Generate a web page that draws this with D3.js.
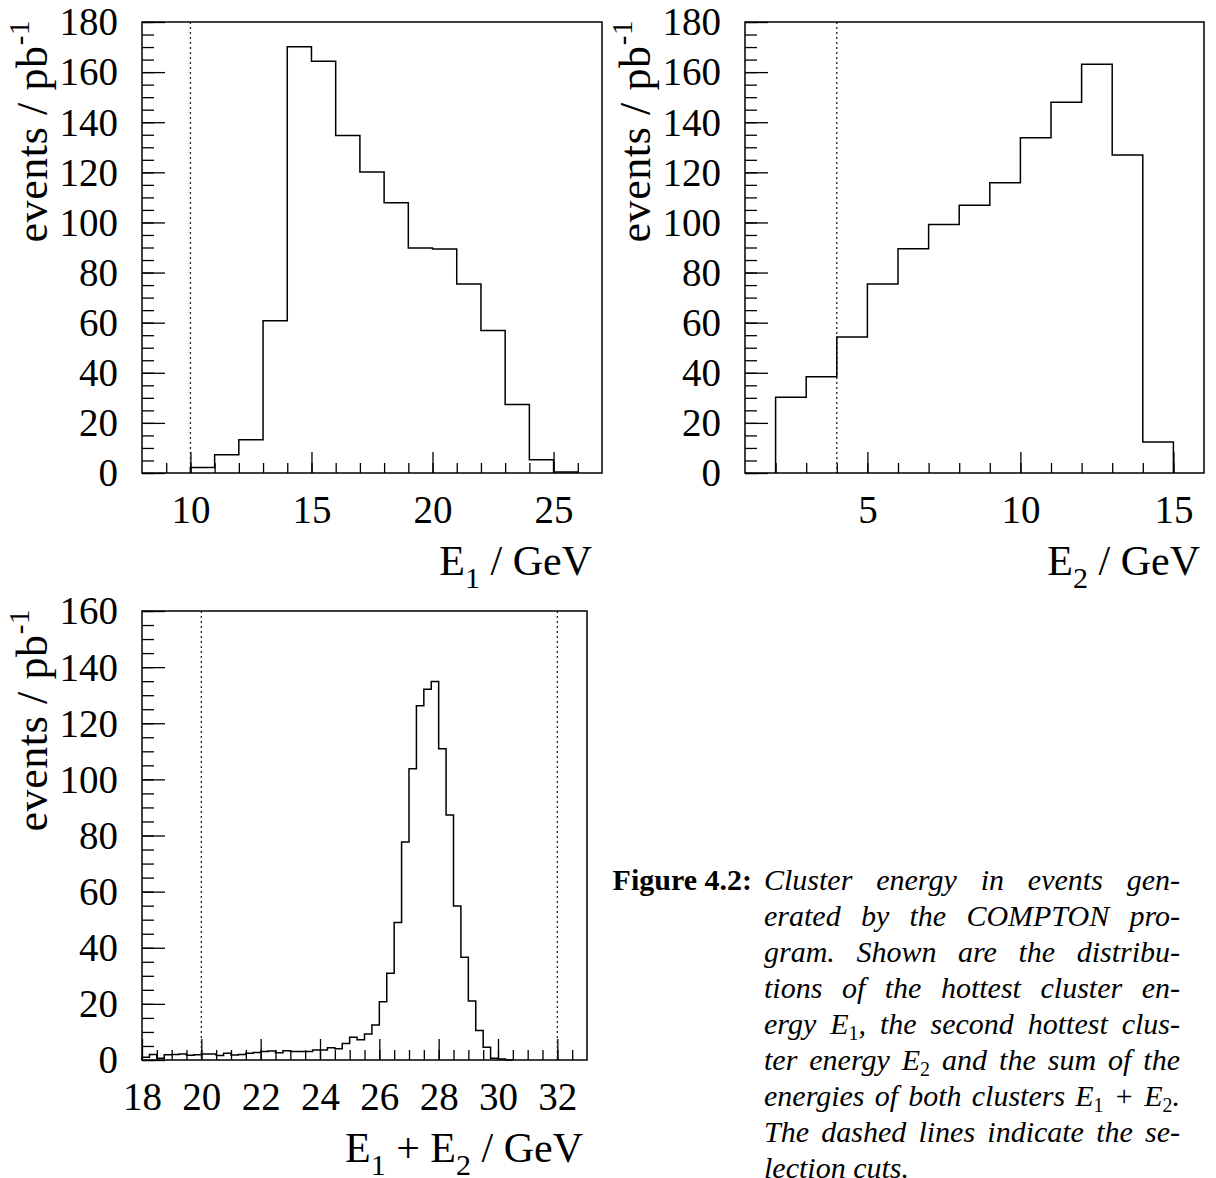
<!DOCTYPE html>
<html><head><meta charset="utf-8">
<script src="https://cdn.jsdelivr.net/npm/d3@7"></script>
<style>body{margin:0;background:#fff} svg{display:block}</style>
</head><body>
<svg id="chart" width="1216" height="1178"></svg>
<script>
// ---------------- data ----------------
// Panel 1: E1 (GeV), bin edges and events / pb^-1
const e1Edges  = [10,11,12,13,14,15,16,17,18,19,20,21,22,23,24,25,26];
const e1Counts = [2.2,7.3,13.3,60.8,170.1,164.3,134.7,120.1,107.9,89.8,89.4,75.4,56.9,27.3,5.3,0.4];
const e1Cuts = [10];
const e1MajorTicks = [10,15,20,25];
const e1MinorTicks = [9,10,11,12,13,14,15,16,17,18,19,20,21,22,23,24,25,26];

// Panel 2: E2 (GeV)
const e2Edges  = [2,3,4,5,6,7,8,9,10,11,12,13,14,15];
const e2Counts = [30.2,38.4,54.3,75.4,89.5,99.2,106.9,115.8,133.8,148.0,163.1,126.9,12.4];
const e2Cuts = [4];
const e2MajorTicks = [5,10,15];
const e2MinorTicks = [2,3,4,5,6,7,8,9,10,11,12,13,14,15];

// Panel 3: E1+E2 (GeV), 0.25 GeV bins starting at 18
const sumBinStart = 18, sumBinWidth = 0.25;
const sumCounts = [1.0,2.0,0.6,1.9,2.0,2.1,1.7,1.9,2.1,2.1,1.6,2.4,1.8,2.0,2.4,2.7,3.0,3.2,2.6,3.3,3.0,3.0,3.0,3.6,3.6,
                   4.4,4.0,5.9,8.1,7.2,9.3,12.5,20.8,30.9,49.0,77.7,103.8,126.2,132.1,134.9,110.9,87.3,54.9,36.6,21.0,10.5,4.5,0.6,0.4,0.0];
const sumCuts = [20,32];
const sumMajorTicks = [18,20,22,24,26,28,30,32];
const sumMinorTicks = [18.5,19,19.5,20,20.5,21,21.5,22,22.5,23,23.5,24,24.5,25,25.5,26,26.5,27,27.5,28,28.5,29,29.5,30,30.5,31,31.5,32,32.5];

const yMajor180 = [0,20,40,60,80,100,120,140,160,180];
const yMajor160 = [0,20,40,60,80,100,120,140,160];
const yMinor180 = d3.range(0,181,5);
const yMinor160 = d3.range(0,161,5);

const captionLabel = "Figure 4.2:";
const captionLines = [
  "Cluster energy in events gen-",
  "erated by the COMPTON pro-",
  "gram.  Shown are the distribu-",
  "tions of the hottest cluster en-",
  "ergy E_1, the second hottest clus-",
  "ter energy E_2 and the sum of the",
  "energies of both clusters E_1 + E_2.",
  "The dashed lines indicate the se-",
  "lection cuts."
];

// ---------------- drawing ----------------
const FONT = "'Liberation Serif','Times New Roman',serif";
const svg = d3.select('#chart');

function panel(cfg){
  const x = d3.scaleLinear().domain(cfg.xDomain).range([cfg.left, cfg.right]);
  const y = d3.scaleLinear().domain(cfg.yDomain).range([cfg.bottom, cfg.top]);
  const g = svg.append('g');

  // minor ticks
  g.append('g').attr('transform',`translate(${cfg.left},0)`)
    .call(d3.axisLeft(y).tickValues(cfg.yMinor).tickSizeInner(-12).tickSizeOuter(0).tickFormat(''))
    .call(a=>a.select('.domain').remove());
  g.append('g').attr('transform',`translate(0,${cfg.bottom})`)
    .call(d3.axisBottom(x).tickValues(cfg.xMinor).tickSizeInner(-10).tickSizeOuter(0).tickFormat(''))
    .call(a=>a.select('.domain').remove());

  // major ticks with labels
  const gy = g.append('g').attr('transform',`translate(${cfg.left},0)`)
    .call(d3.axisLeft(y).tickValues(cfg.yMajor).tickSizeInner(-23).tickSizeOuter(0).tickPadding(24));
  gy.select('.domain').remove();
  gy.attr('font-family', FONT).attr('font-size', 39);
  gy.selectAll('text').attr('dy','0.33em');

  const gx = g.append('g').attr('transform',`translate(0,${cfg.bottom})`)
    .call(d3.axisBottom(x).tickValues(cfg.xMajor).tickSizeInner(-21).tickSizeOuter(0).tickFormat(d3.format('d')));
  gx.select('.domain').remove();
  gx.attr('font-family', FONT).attr('font-size', 39);
  gx.selectAll('text').attr('y', 50).attr('dy', 0);

  g.selectAll('.tick line').attr('stroke','#000').attr('stroke-width',1.3);

  // cut lines
  g.selectAll('line.cut').data(cfg.cuts).join('line').attr('class','cut')
    .attr('x1',d=>x(d)).attr('x2',d=>x(d))
    .attr('y1',cfg.top).attr('y2',cfg.bottom)
    .attr('stroke','#222').attr('stroke-width',1.3).attr('stroke-dasharray','2,3');

  // histogram outline
  const pts = [[cfg.edges[0],0]];
  cfg.counts.forEach((v,i)=>{ pts.push([cfg.edges[i],v]); pts.push([cfg.edges[i+1],v]); });
  pts.push([cfg.edges[cfg.edges.length-1],0]);
  g.append('path').datum(pts)
    .attr('d', d3.line().x(d=>x(d[0])).y(d=>y(d[1])))
    .attr('fill','none').attr('stroke','#000').attr('stroke-width',1.5);

  // frame
  g.append('rect').attr('x',cfg.left).attr('y',cfg.top)
    .attr('width',cfg.right-cfg.left).attr('height',cfg.bottom-cfg.top)
    .attr('fill','none').attr('stroke','#000').attr('stroke-width',1.5);

  // y title
  const yt = g.append('text')
    .attr('transform',`translate(${cfg.left-95},${cfg.top-2}) rotate(-90)`)
    .attr('text-anchor','end').attr('font-family',FONT).attr('font-size',44)
    .attr('letter-spacing',0.6);
  yt.append('tspan').text('events / pb');
  yt.append('tspan').attr('font-size',29).attr('dy',-18).text('-1');

  // x title
  const xt = g.append('text').attr('x',cfg.xTitleRight).attr('y',cfg.bottom+102)
    .attr('text-anchor','end').attr('font-family',FONT).attr('font-size',42);
  cfg.xTitle.forEach(p=>{
    if(p.sub) xt.append('tspan').attr('font-size',30).attr('dy',13).text(p.t);
    else xt.append('tspan').attr('dy',p.after? -13:0).text(p.t);
  });
}

panel({left:142,right:602,top:22,bottom:473,xDomain:[8,27],yDomain:[0,180],
  xMajor:e1MajorTicks,xMinor:e1MinorTicks,yMajor:yMajor180,yMinor:yMinor180,
  edges:e1Edges,counts:e1Counts,cuts:e1Cuts,xTitleRight:592,
  xTitle:[{t:'E'},{t:'1',sub:true},{t:' / GeV',after:true}]});

panel({left:745,right:1204,top:22,bottom:473,xDomain:[1,16],yDomain:[0,180],
  xMajor:e2MajorTicks,xMinor:e2MinorTicks,yMajor:yMajor180,yMinor:yMinor180,
  edges:e2Edges,counts:e2Counts,cuts:e2Cuts,xTitleRight:1200,
  xTitle:[{t:'E'},{t:'2',sub:true},{t:' / GeV',after:true}]});

const sumEdges = sumCounts.map((_,i)=>sumBinStart+i*sumBinWidth).concat([sumBinStart+sumCounts.length*sumBinWidth]);
panel({left:142,right:587,top:611,bottom:1060,xDomain:[18,33],yDomain:[0,160],
  xMajor:sumMajorTicks,xMinor:sumMinorTicks,yMajor:yMajor160,yMinor:yMinor160,
  edges:sumEdges,counts:sumCounts,cuts:sumCuts,xTitleRight:583,
  xTitle:[{t:'E'},{t:'1',sub:true},{t:' + E',after:true},{t:'2',sub:true},{t:' / GeV',after:true}]});

// ---------------- caption ----------------
const capLeft = 764, capRight = 1180, capTop = 890, capLH = 36, capFS = 30;
svg.append('text').attr('x',752).attr('y',capTop).attr('text-anchor','end')
  .attr('font-family',FONT).attr('font-size',capFS).attr('font-weight','bold').text(captionLabel);

captionLines.forEach((line,li)=>{
  const yPos = capTop + li*capLH;
  const tokens = line.split(/ +/);
  const nodes = tokens.map(tok=>{
    const t = svg.append('text').attr('x',0).attr('y',yPos)
      .attr('font-family',FONT).attr('font-size',capFS).attr('font-style','italic');
    const parts = tok.split(/_(\d)/);
    parts.forEach((p,pi)=>{
      if(p==='') return;
      if(pi%2===1) t.append('tspan').attr('font-size',20).attr('font-style','normal').attr('dy',6).text(p);
      else t.append('tspan').attr('dy', pi>0 ? -6 : 0).text(p);
    });
    return t;
  });
  const widths = nodes.map(n=>n.node().getComputedTextLength());
  const total = d3.sum(widths);
  const last = li === captionLines.length-1;
  const gap = last ? capFS*0.25 : (capRight-capLeft-total)/(tokens.length-1);
  let xp = capLeft;
  nodes.forEach((n,i)=>{ n.attr('x',xp); xp += widths[i] + gap; });
});
</script>
</body></html>
